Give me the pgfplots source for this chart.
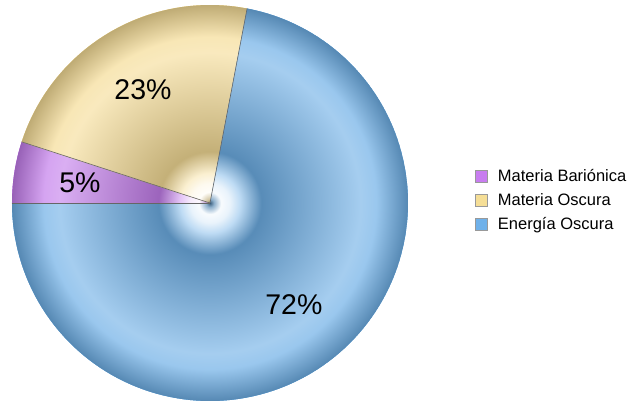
\documentclass[border=0pt]{standalone}
\usepackage{pgfplots}
\pgfplotsset{compat=1.18}
\usepgfplotslibrary{polar}
\usepackage{fontspec}
\setmainfont{Liberation Sans}
\definecolor{pB}{RGB}{110,175,230}
\definecolor{pY}{RGB}{245,220,150}
\definecolor{pP}{RGB}{195,125,235}
\definecolor{lP}{RGB}{200,125,240}
\definecolor{lY}{RGB}{245,222,150}
\definecolor{lB}{RGB}{111,177,234}
% the pie radius corresponds to 25bp of the shading
\newcommand\declpie[2]{\pgfdeclareradialshading{#1}{\pgfpoint{0bp}{0bp}}{%
color(0bp)=(#2!55!black); color(0.5bp)=(#2!60!white!85!black); color(1.4bp)=(white!95!#2);
color(2.5bp)=(white!85!#2); color(3.8bp)=(#2!45!white); color(6.5bp)=(#2!80!black);
color(19bp)=(#2!62!white); color(21bp)=(#2!70!white); color(25bp)=(#2!78!black);
color(50bp)=(#2!78!black)}}
\declpie{shP}{pP}
\declpie{shY}{pY}
\declpie{shB}{pB}
% slice percentages
\def\pctP{5}\def\pctY{23}\def\pctB{72}
\pgfmathsetmacro\aP{180-3.6*\pctP}
\pgfmathsetmacro\aY{\aP-3.6*\pctY}
\pgfmathsetmacro\aB{\aY-3.6*\pctB}
\pgfmathsetmacro\mP{(180+\aP)/2}
\pgfmathsetmacro\mY{(\aP+\aY)/2}
\pgfmathsetmacro\mB{(\aY+\aB)/2}
\begin{document}
\begin{tikzpicture}
\useasboundingbox (-210pt,-197pt) rectangle (424pt,203pt);
\begin{polaraxis}[at={(0pt,0pt)}, anchor=origin,
  width=396pt, height=396pt, scale only axis, hide axis,
  ymin=0, ymax=1, clip=false,
  legend image code/.code={\draw[#1, draw=black!40, line width=0.4pt] (0pt,-6pt) rectangle (12pt,6pt);},
  legend style={draw=none, fill=none, at={(1.160,0.508)}, anchor=west,
    font=\fontsize{16.5}{19}\selectfont, row sep=6.5pt,
    /tikz/every odd column/.append style={column sep=9pt}},
  legend cell align=left]
\addplot[draw=none, fill=pP, domain=\aP:180, samples=12, forget plot,
  path picture={\shade[path picture={}, draw=none, shading=shP] (axis cs:0,0) circle[radius=198pt];}] {1}
  -- (axis cs:0,0) -- cycle;
\addplot[draw=none, fill=pY, domain=\aY:\aP, samples=45, forget plot,
  path picture={\shade[path picture={}, draw=none, shading=shY] (axis cs:0,0) circle[radius=198pt];}] {1}
  -- (axis cs:0,0) -- cycle;
\addplot[draw=none, fill=pB, domain=\aB:\aY, samples=130, forget plot,
  path picture={\shade[path picture={}, draw=none, shading=shB] (axis cs:0,0) circle[radius=198pt];}] {1}
  -- (axis cs:0,0) -- cycle;
\addplot[draw=black!60, line width=0.6pt, forget plot] coordinates {(180,0) (180,1)};
\addplot[draw=black!60, line width=0.6pt, forget plot] coordinates {(\aP,0) (\aP,1)};
\addplot[draw=black!60, line width=0.6pt, forget plot] coordinates {(\aY,0) (\aY,1)};
\node[font=\fontsize{28.5}{30}\selectfont] at (axis cs:\mP,0.665) {5\%};
\node[font=\fontsize{28.5}{30}\selectfont] at (axis cs:\mY,0.665) {23\%};
\node[font=\fontsize{28.5}{30}\selectfont] at (axis cs:\mB,0.665) {72\%};
\addlegendimage{fill=lP}\addlegendentry{Materia Bariónica}
\addlegendimage{fill=lY}\addlegendentry{Materia Oscura}
\addlegendimage{fill=lB}\addlegendentry{Energía Oscura}
\end{polaraxis}
\end{tikzpicture}
\end{document}
